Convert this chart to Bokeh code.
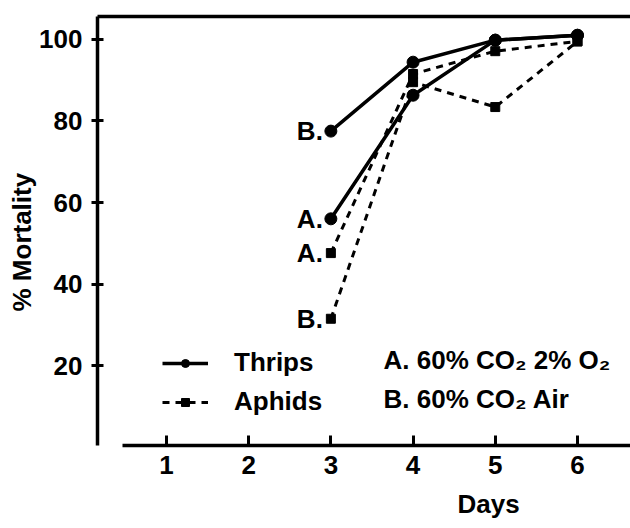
from bokeh.plotting import figure
from bokeh.models import FixedTicker, LinearAxis, Label, Legend, LegendItem, Range1d, Title
from bokeh.core.properties import value
from bokeh.embed import file_html
from bokeh.resources import INLINE

# ---- data ----
days = [3, 4, 5, 6]
thrips_a = [56.0, 86.3, 99.8, 101.0]
thrips_b = [77.5, 94.4, 99.8, 101.0]
aphids_a = [47.6, 91.5, 97.1, 99.5]
aphids_b = [31.5, 89.5, 83.4, 99.5]
start_labels = ["A.", "B.", "A.", "B."]
x_ticks = [1, 2, 3, 4, 5, 6]
y_ticks = [20, 40, 60, 80, 100]
condition_notes = ["A. 60% CO\u2082  2% O\u2082", "B. 60% CO\u2082  Air"]
series_names = ["Thrips", "Aphids"]
x_title = "Days"
y_title = "% Mortality"

FONT = "Liberation Sans"
FS = "26px"
STYLE = "bold"

p = figure(width=630, height=528, output_backend="svg", toolbar_location=None,
           x_range=Range1d(0.161, 6.645), y_range=Range1d(0.43, 105.6),
           min_border_left=97, min_border_right=0, min_border_top=16,
           min_border_bottom=82)
p.grid.visible = False
p.outline_line_color = None
p.background_fill_color = "white"
p.border_fill_color = "white"

# x axis
xa = p.xaxis[0]
xa.ticker = FixedTicker(ticks=x_ticks)
xa.bounds = (0.47, 6.64)
xa.axis_line_width = 3.5
xa.major_tick_line_width = 3
xa.major_tick_in = 10
xa.major_tick_out = 0
xa.minor_tick_line_color = None
xa.major_label_text_font = FONT
xa.major_label_text_font_size = FS
xa.major_label_text_font_style = STYLE
xa.major_label_text_color = "black"
xa.major_label_standoff = 10

# y axis
ya = p.yaxis[0]
ya.ticker = FixedTicker(ticks=y_ticks)
ya.axis_line_width = 3.5
ya.major_tick_line_width = 3
ya.major_tick_in = 6
ya.major_tick_out = 6
ya.minor_tick_line_color = None
ya.major_label_text_font = FONT
ya.major_label_text_font_size = FS
ya.major_label_text_font_style = STYLE
ya.major_label_text_color = "black"
ya.major_label_standoff = 9

# axis titles as side titles (offset from the frame edge)
p.add_layout(Title(text=x_title, align="left", offset=360, standoff=20,
                   text_font=FONT, text_font_size=FS, text_font_style=STYLE,
                   text_color="black"), "below")
p.add_layout(Title(text=y_title, align="left", offset=134, standoff=0,
                   text_font=FONT, text_font_size=FS, text_font_style=STYLE,
                   text_color="black"), "left")

# top border line
top = LinearAxis(ticker=FixedTicker(ticks=[]), axis_line_width=3.5,
                 major_tick_line_color=None, minor_tick_line_color=None,
                 major_tick_in=0, major_tick_out=0)
p.add_layout(top, "above")

# series
tl_a = p.line(days, thrips_a, line_color="black", line_width=3.5)
tl_b = p.line(days, thrips_b, line_color="black", line_width=3.5)
tc_a = p.scatter(days, thrips_a, marker="circle", size=12, color="black")
tc_b = p.scatter(days, thrips_b, marker="circle", size=12, color="black")
al_a = p.line(days, aphids_a, line_color="black", line_width=3, line_dash="7 6")
al_b = p.line(days, aphids_b, line_color="black", line_width=3, line_dash="7 6")
as_a = p.scatter(days, aphids_a, marker="square", size=9, color="black")
as_b = p.scatter(days, aphids_b, marker="square", size=9, color="black")

# start labels next to the day-3 points
p.text(x=[days[0]] * 4, y=[thrips_a[0], thrips_b[0], aphids_a[0], aphids_b[0]],
       text=start_labels, x_offset=-8, text_align="right", text_baseline="middle",
       text_font=value(FONT), text_font_size=FS, text_font_style=STYLE,
       text_color="black")

# legend
legend = Legend(items=[LegendItem(label=series_names[0], renderers=[tl_a, tc_a]),
                       LegendItem(label=series_names[1], renderers=[al_a, as_a])],
                location=(65, 28), orientation="vertical", glyph_width=46,
                glyph_height=20, label_standoff=26, spacing=8, padding=0, margin=0,
                border_line_color=None, background_fill_alpha=0,
                label_text_font=FONT, label_text_font_size=FS,
                label_text_font_style=STYLE, label_text_color="black")
p.add_layout(legend)

# condition notes
for note, yv in zip(condition_notes, [21.5, 11.9]):
    p.add_layout(Label(x=3.64, y=yv, text=note, text_align="left",
                       text_baseline="middle", text_font=FONT, text_font_size=FS,
                       text_font_style=STYLE, text_color="black"))

open("out.html", "w").write(file_html(p, INLINE))
